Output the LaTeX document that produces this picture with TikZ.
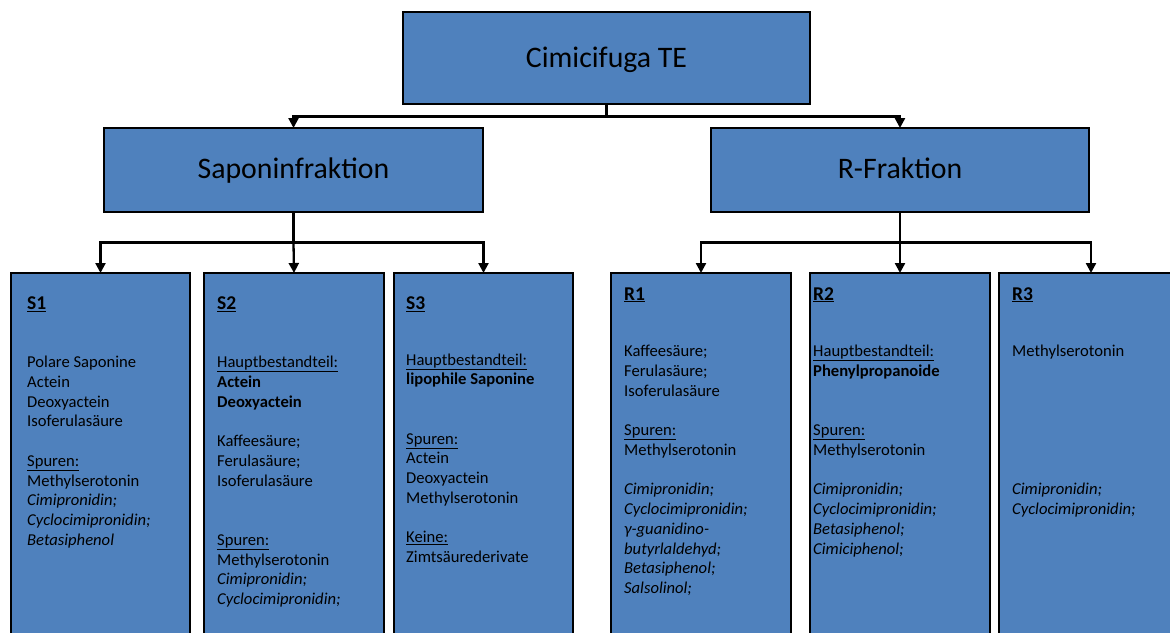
\documentclass[tikz,border=0pt]{standalone}
\usepackage{fontspec}
\setmainfont{Carlito}
\usetikzlibrary{arrows.meta}
\definecolor{boxblue}{HTML}{4F81BD}
\begin{document}
\begin{tikzpicture}[x=1pt,y=-1pt,
  box/.style={draw=black, line width=2.6pt, fill=boxblue, inner sep=0pt, outer sep=0pt, anchor=north west},
  conn/.style={line width=2.3pt, -{Triangle[length=10pt,width=10pt]}},
  plain/.style={line width=2.3pt},
  big/.style={anchor=base, inner sep=0pt, font=\fontsize{29.8}{35}\selectfont, text=black},
  hdr/.style={anchor=base west, inner sep=0pt, font=\fontsize{19.5}{24}\selectfont\bfseries},
  body/.style={anchor=base west, inner sep=0pt, font=\fontsize{16.6}{19.75}\selectfont}]
\useasboundingbox (0,0) rectangle (1170,632);
\clip (0,0) rectangle (1170,632);

% boxes
\node[box, minimum width=407pt, minimum height=92pt] (top) at (403,12) {};
\node[box, minimum width=379pt, minimum height=84pt] (sap) at (104,128) {};
\node[box, minimum width=378pt, minimum height=84pt] (rfr) at (711,128) {};
\node[box, minimum width=179pt, minimum height=380pt] (s1) at (11,273) {};
\node[box, minimum width=180pt, minimum height=380pt] (s2) at (204,273) {};
\node[box, minimum width=179pt, minimum height=380pt] (s3) at (394,273) {};
\node[box, minimum width=180pt, minimum height=380pt] (r1) at (611,273) {};
\node[box, minimum width=180pt, minimum height=380pt] (r2) at (810,273) {};
\node[box, minimum width=184pt, minimum height=380pt] (r3) at (999,273) {};

% titles
\node[big] (ttop) at (606.5,67) {Cimicifuga TE};
\node[big] (tsap) at (293.5,178.5) {Saponinfraktion};
\node[big] (trfr) at (900,178.5) {R-Fraktion};

% connectors
\draw[plain] (top.south) -- ++(0,12.5) coordinate (j1);
\draw[conn] (j1) -| (sap.north);
\draw[conn] (j1) -| (rfr.north);
\draw[plain] (sap.south) -- ++(0,30.5) coordinate (j2);
\draw[conn] (j2) -| (s1.north);
\draw[conn] (j2) -- (s2.north);
\draw[conn] (j2) -| (s3.north);
\draw[plain] (rfr.south) -- ++(0,30.5) coordinate (j3);
\draw[conn] (j3) -| (r1.north);
\draw[conn] (j3) -- (r2.north);
\draw[conn] (j3) -| (r3.north);

% headers
\node[hdr] (hs1) at (27,309.5) {\underline{S1}};
\node[hdr] (hs2) at (217,309.5) {\underline{S2}};
\node[hdr] (hs3) at (406,309.5) {\underline{S3}};
\node[hdr] (hr1) at (624,300) {\underline{R1}};
\node[hdr] (hr2) at (813,300) {\underline{R2}};
\node[hdr] (hr3) at (1012,300) {\underline{R3}};

% bodies
\node[body] (bs1) at (27,367.5) {\parbox[t]{160pt}{\raggedright
Polare Saponine\\ Actein\\ Deoxyactein\\ Isoferulasäure\\ ~\\
\underline{Spuren:}\\ Methylserotonin\\ \textit{Cimipronidin;}\\ \textit{Cyclocimipronidin;}\\ \textit{Betasiphenol}}};
\node[body] (bs2) at (217,367.5) {\parbox[t]{160pt}{\raggedright
\underline{Hauptbestandteil:}\\ \textbf{Actein}\\ \textbf{Deoxyactein}\\ ~\\
Kaffeesäure;\\ Ferulasäure;\\ Isoferulasäure\\ ~\\ ~\\
\underline{Spuren:}\\ Methylserotonin\\ \textit{Cimipronidin;}\\ \textit{Cyclocimipronidin;}}};
\node[body] (bs3) at (406,365) {\parbox[t]{160pt}{\raggedright
\underline{Hauptbestandteil:}\\ \textbf{lipophile Saponine}\\ ~\\ ~\\
\underline{Spuren:}\\ Actein\\ Deoxyactein\\ Methylserotonin\\ ~\\
\underline{Keine:}\\ Zimtsäurederivate}};
\node[body] (br1) at (624,356.5) {\parbox[t]{160pt}{\raggedright
Kaffeesäure;\\ Ferulasäure;\\ Isoferulasäure\\ ~\\
\underline{Spuren:}\\ Methylserotonin\\ ~\\
\textit{Cimipronidin;}\\ \textit{Cyclocimipronidin;}\\ \textit{γ-guanidino-}\\ \textit{butyrlaldehyd;}\\ \textit{Betasiphenol;}\\ \textit{Salsolinol;}}};
\node[body] (br2) at (813,356.5) {\parbox[t]{160pt}{\raggedright
\underline{Hauptbestandteil:}\\ \textbf{Phenylpropanoide}\\ ~\\ ~\\
\underline{Spuren:}\\ Methylserotonin\\ ~\\
\textit{Cimipronidin;}\\ \textit{Cyclocimipronidin;}\\ \textit{Betasiphenol;}\\ \textit{Cimiciphenol;}}};
\node[body] (br3) at (1012,356.5) {\parbox[t]{150pt}{\raggedright
Methylserotonin\\ ~\\ ~\\ ~\\ ~\\ ~\\ ~\\
\textit{Cimipronidin;}\\ \textit{Cyclocimipronidin;}}};
\end{tikzpicture}
\end{document}
